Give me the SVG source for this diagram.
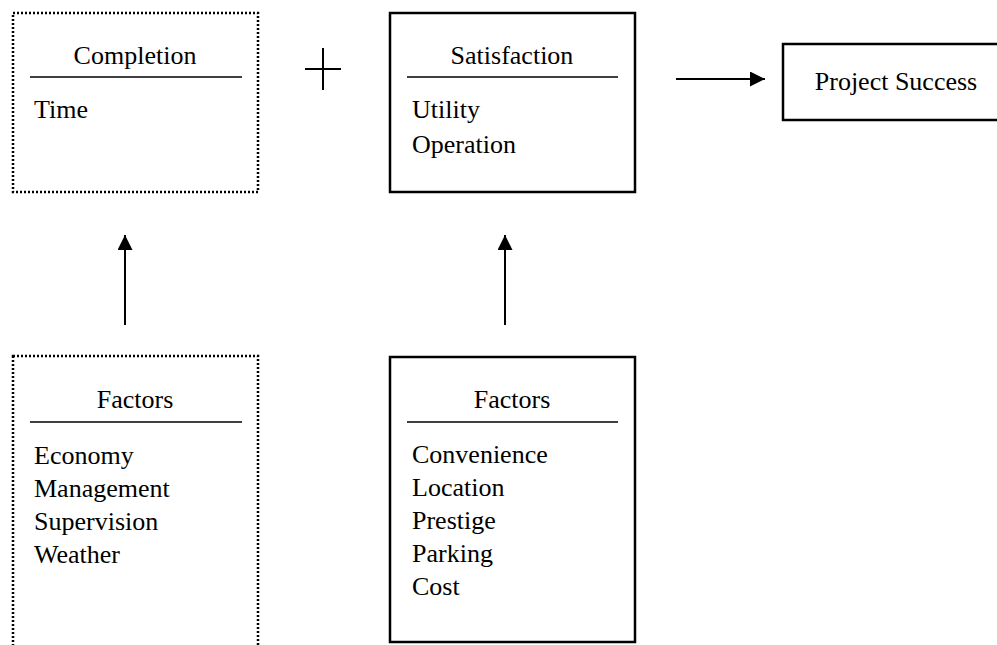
<svg xmlns="http://www.w3.org/2000/svg" width="997" height="645" viewBox="0 0 997 645">
<defs>
<style>
text{font-family:"Liberation Serif","Times New Roman",serif;font-size:26px;fill:#000}
.c{text-anchor:middle}
.solid{fill:#fff;stroke:#000;stroke-width:2.5}
.dot{fill:#fff;stroke:#000;stroke-width:2.5;stroke-dasharray:2 2}
.rule{stroke:#000;stroke-width:1.5}
.conn{stroke:#000;stroke-width:2;fill:none}
</style>
<marker id="ah" viewBox="0 0 10 10" refX="10" refY="5" markerWidth="15" markerHeight="15" markerUnits="userSpaceOnUse" orient="auto">
<path d="M0,0 L10,5 L0,10 Z" fill="#000"/>
</marker>
</defs>
<rect width="997" height="645" fill="#fff"/>
<g id="completion">
<rect class="dot" x="13" y="13" width="245" height="179"/>
<text class="c" x="135" y="64">Completion</text>
<line class="rule" x1="30" y1="77" x2="242" y2="77"/>
<text x="34" y="118">Time</text>
</g>
<g id="plus">
<line class="conn" x1="305" y1="69" x2="341" y2="69"/>
<line class="conn" x1="323" y1="48" x2="323" y2="90"/>
</g>
<g id="satisfaction">
<rect class="solid" x="390" y="13" width="245" height="179"/>
<text class="c" x="512" y="64">Satisfaction</text>
<line class="rule" x1="407" y1="77" x2="618" y2="77"/>
<text x="412" y="118">Utility</text>
<text x="412" y="153">Operation</text>
</g>
<g id="project-success">
<rect class="solid" x="783" y="44" width="220" height="76"/>
<text class="c" x="896" y="90">Project Success</text>
</g>
<g id="factors-completion">
<rect class="dot" x="13" y="356" width="245" height="300"/>
<text class="c" x="135" y="408">Factors</text>
<line class="rule" x1="30" y1="422" x2="242" y2="422"/>
<text x="34" y="464">Economy</text>
<text x="34" y="497">Management</text>
<text x="34" y="530">Supervision</text>
<text x="34" y="563">Weather</text>
</g>
<g id="factors-satisfaction">
<rect class="solid" x="390" y="357" width="245" height="285"/>
<text class="c" x="512" y="408">Factors</text>
<line class="rule" x1="407" y1="422" x2="618" y2="422"/>
<text x="412" y="463">Convenience</text>
<text x="412" y="496">Location</text>
<text x="412" y="529">Prestige</text>
<text x="412" y="562">Parking</text>
<text x="412" y="595">Cost</text>
</g>
<g id="connectors">
<line class="conn" x1="676" y1="79" x2="765" y2="79" marker-end="url(#ah)"/>
<line class="conn" x1="125" y1="325" x2="125" y2="235" marker-end="url(#ah)"/>
<line class="conn" x1="505" y1="325" x2="505" y2="235" marker-end="url(#ah)"/>
</g>
</svg>
